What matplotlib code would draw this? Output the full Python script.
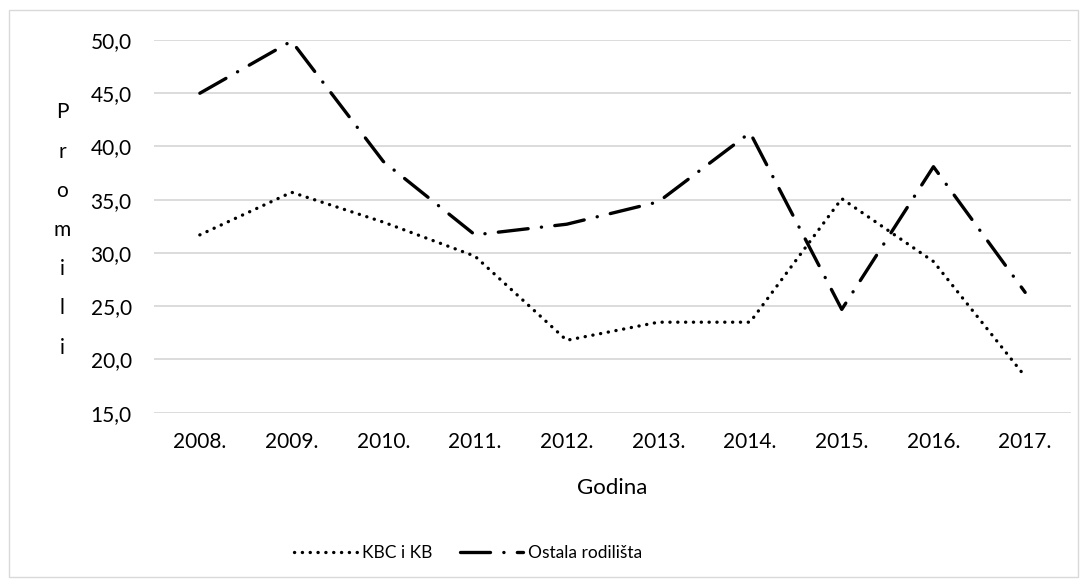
import matplotlib
matplotlib.use("Agg")
import matplotlib.pyplot as plt
from matplotlib.patches import Rectangle

years = ["2008.", "2009.", "2010.", "2011.", "2012.", "2013.", "2014.", "2015.", "2016.", "2017."]
kbc = [31.7, 35.7, 32.9, 29.7, 21.8, 23.5, 23.5, 35.1, 29.2, 18.4]
ostala = [45.0, 49.9, 38.6, 31.7, 32.7, 34.8, 41.3, 24.7, 38.1, 26.3]
yticks = [15, 20, 25, 30, 35, 40, 45, 50]
ytick_labels = ["15,0", "20,0", "25,0", "30,0", "35,0", "40,0", "45,0", "50,0"]

plt.rcParams['font.family'] = ['Lato', 'DejaVu Sans']

W, H = 1088, 585
fig = plt.figure(figsize=(W/100, H/100), dpi=100)
fig.patches.append(Rectangle((9/W, 1-577/H), (1078-9)/W, (577-10)/H, transform=fig.transFigure,
                             fill=False, edgecolor='#d9d9d9', linewidth=1.0))

ax = fig.add_axes([154/W, 1-412.7/H, (1071-154)/W, (412.7-40)/H])
x = list(range(len(years)))
ax.plot(x, kbc, color='black', linewidth=2.4, linestyle=(0, (0.05, 2.3)),
        dash_capstyle='round', label='KBC i KB')
ax.plot(x, ostala, color='black', linewidth=2.4, linestyle=(0, (9.0, 4.0, 0.05, 4.0)),
        dash_capstyle='round', label='Ostala rodilišta')

ax.set_xlim(-0.5, len(years)-0.5)
ax.set_ylim(15, 50)
ax.set_yticks(yticks)
ax.set_yticklabels(ytick_labels)
ax.set_xticks(x)
ax.set_xticklabels(years)
for s in ax.spines.values():
    s.set_visible(False)
ax.yaxis.grid(True, color='#d9d9d9', linewidth=1.3)
ax.set_axisbelow(True)
ax.tick_params(axis='both', length=0, labelsize=15)
ax.tick_params(axis='y', pad=16)
ax.tick_params(axis='x', pad=14)

fig.text(612/W, 1-488/H, "Godina", ha='center', va='center', fontsize=16)
fig.text(62/W, 1-230/H, "P\nr\no\nm\ni\nl\ni", ha='center', va='center', fontsize=15,
         linespacing=2.2)

fig.legend(loc='center', bbox_to_anchor=(468/W, 1-553/H), ncol=2, frameon=False,
           fontsize=12.5, handlelength=3.6, columnspacing=1.6, handletextpad=0.3)

fig.savefig("out.png", dpi=100)
